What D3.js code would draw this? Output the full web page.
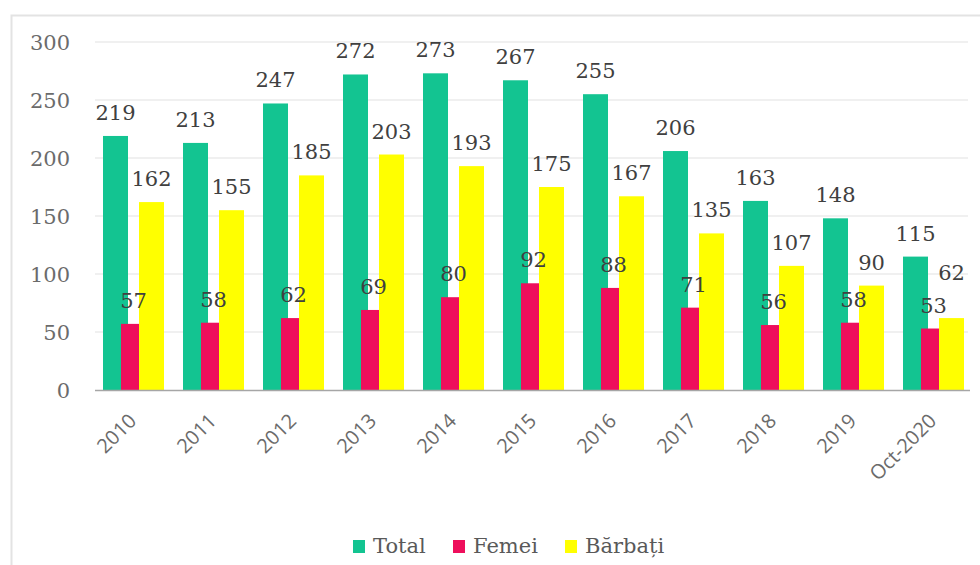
<!DOCTYPE html>
<html>
<head>
<meta charset="utf-8">
<script src="https://cdn.jsdelivr.net/npm/d3@7"></script>
<style>
  body { margin: 0; background: #fff; }
  .val { font-family: "DejaVu Serif", serif; font-size: 21px; fill: #404040; }
  .tick text { font-family: "DejaVu Serif", serif; font-size: 21px; fill: #6b6b6b; }
  .cat text { font-family: "Open Sans", sans-serif; font-size: 20px; fill: #6b6b6b; }
  .legend text { font-family: "DejaVu Serif", serif; font-size: 21px; fill: #595959; }
</style>
</head>
<body>
<div id="chart"></div>
<script>
// Chart data
var years = ["2010", "2011", "2012", "2013", "2014", "2015", "2016", "2017", "2018", "2019", "Oct-2020"];
var series = ["Total", "Femei", "Bărbați"];
var total = [219, 213, 247, 272, 273, 267, 255, 206, 163, 148, 115];
var femei = [57, 58, 62, 69, 80, 92, 88, 71, 56, 58, 53];
var barbati = [162, 155, 185, 203, 193, 175, 167, 135, 107, 90, 62];
var yTicks = [0, 50, 100, 150, 200, 250, 300];

var colors = ["#13c491", "#ee0f5c", "#ffff00"];

var svgWidth = 980;
var svgHeight = 565;

var svg = d3.select("#chart")
  .append("svg")
  .attr("width", svgWidth)
  .attr("height", svgHeight);

// light frame of the chart
svg.append("rect")
  .attr("x", 11.5)
  .attr("y", 15.5)
  .attr("width", 1000)
  .attr("height", 600)
  .attr("fill", "none")
  .attr("stroke", "#e3e3e3")
  .attr("stroke-width", 2);

var rows = years.map(function(y, i) {
  return { year: y, values: [total[i], femei[i], barbati[i]] };
});

var x0 = d3.scaleBand()
  .domain(years)
  .range([93.5, 973.5])
  .paddingInner(0.2375)
  .paddingOuter(0.11875);

// bars overlap a little, like the original
var barW = 25;
var x1 = d3.scalePoint()
  .domain(series)
  .range([0, x0.bandwidth() - barW]);

var y = d3.scaleLinear()
  .domain([0, 300])
  .range([390, 42]);

// gridlines
svg.append("g")
  .selectAll("line")
  .data(yTicks.slice(1))
  .enter()
  .append("line")
  .attr("x1", 95)
  .attr("x2", 968)
  .attr("y1", d => y(d))
  .attr("y2", d => y(d))
  .attr("stroke", "#ebebeb")
  .attr("stroke-width", 1.5);

// y axis labels
var leftAxis = d3.axisLeft(y).tickValues(yTicks).tickSize(0).tickPadding(0);
var yAxis = svg.append("g")
  .attr("transform", "translate(70,0)")
  .call(leftAxis);
yAxis.select(".domain").remove();
yAxis.selectAll(".tick text").attr("dy", "0.35em");

// bars
var groups = svg.append("g")
  .selectAll("g")
  .data(rows)
  .enter()
  .append("g")
  .attr("transform", d => `translate(${x0(d.year)},0)`);

groups.selectAll("rect")
  .data(d => d.values.map((v, k) => ({ key: series[k], k: k, value: v })))
  .enter()
  .append("rect")
  .attr("x", d => x1(d.key))
  .attr("y", d => y(d.value))
  .attr("width", barW)
  .attr("height", d => y(0) - y(d.value))
  .attr("fill", d => colors[d.k]);

// value labels; lift the third label when it would hit the second one
groups.each(function(row) {
  var g = d3.select(this);
  var ly = row.values.map(v => y(v) - 16);
  if (Math.abs(ly[2] - ly[1]) < 22) ly[2] = ly[1] - 33;
  row.values.forEach(function(v, k) {
    g.append("text")
      .classed("val", true)
      .attr("x", x1(series[k]) + barW / 2)
      .attr("y", ly[k])
      .attr("text-anchor", "middle")
      .text(v);
  });
});

// x axis line
svg.append("line")
  .attr("x1", 95)
  .attr("x2", 970)
  .attr("y1", 390.5)
  .attr("y2", 390.5)
  .attr("stroke", "#a6a6a6")
  .attr("stroke-width", 1.5);

// category labels
var bottomAxis = d3.axisBottom(x0).tickSize(0);
var xAxis = svg.append("g")
  .classed("cat", true)
  .attr("transform", "translate(0,390)")
  .call(bottomAxis);
xAxis.select(".domain").remove();
xAxis.selectAll("text")
  .attr("text-anchor", "end")
  .attr("dy", "0")
  .attr("transform", "translate(2,30) rotate(-45)");

// legend
var legendX = [353, 453, 565];
var legend = svg.append("g").classed("legend", true);
series.forEach(function(s, i) {
  legend.append("rect")
    .attr("x", legendX[i])
    .attr("y", 540)
    .attr("width", 12)
    .attr("height", 13)
    .attr("fill", colors[i]);
  legend.append("text")
    .attr("x", legendX[i] + 20)
    .attr("y", 553)
    .text(s);
});
</script>
</body>
</html>
